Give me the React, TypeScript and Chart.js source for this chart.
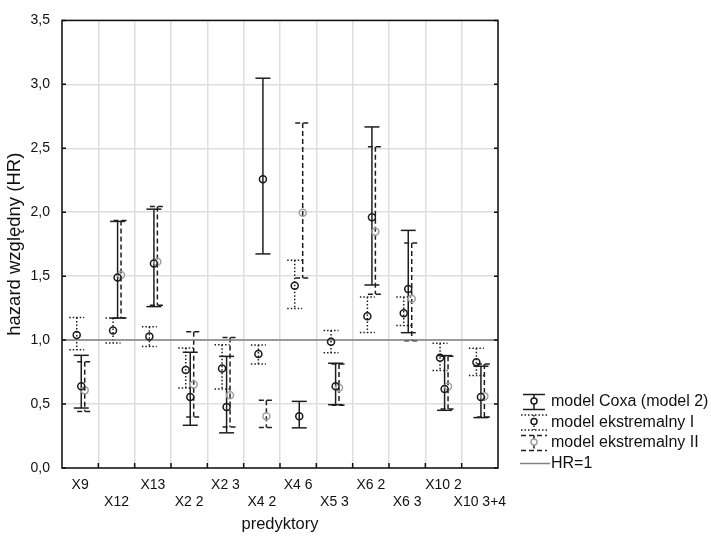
import React, { useEffect, useRef } from 'react';
import { Chart, registerables } from 'chart.js';

Chart.register(...registerables);

const FONT = "'Liberation Sans', Arial, Helvetica, sans-serif";

const categories = ['X9', 'X12', 'X13', 'X2 2', 'X2 3', 'X4 2', 'X4 6', 'X5 3', 'X6 2', 'X6 3', 'X10 2', 'X10 3+4'];
const yTickValues = [0, 0.5, 1, 1.5, 2, 2.5, 3, 3.5];

// model Coxa (model 2)
const coxHR = [0.64, 1.49, 1.6, 0.555, 0.477, 2.258, 0.404, 0.64, 1.96, 1.4, 0.617, 0.555];
const coxLow = [0.469, 1.172, 1.262, 0.334, 0.275, 1.674, 0.314, 0.495, 1.431, 1.058, 0.451, 0.394];
const coxHigh = [0.881, 1.928, 2.024, 0.905, 0.873, 3.048, 0.521, 0.819, 2.667, 1.858, 0.879, 0.796];

// model ekstremalny I
const ext1HR = [1.04, 1.076, 1.029, 0.767, 0.778, 0.892, 1.426, 0.988, 1.187, 1.211, 0.863, 0.827];
const ext1Low = [0.925, 0.977, 0.951, 0.625, 0.617, 0.814, 1.247, 0.902, 1.06, 1.115, 0.762, 0.723];
const ext1High = [1.177, 1.172, 1.104, 0.938, 0.964, 0.962, 1.625, 1.076, 1.337, 1.337, 0.975, 0.936];

// model ekstremalny II
const ext2HR = [0.607, 1.509, 1.612, 0.653, 0.568, 0.404, 1.996, 0.627, 1.848, 1.324, 0.638, 0.562];
const ext2Low = [0.441, 1.172, 1.273, 0.399, 0.321, 0.316, 1.485, 0.49, 1.358, 0.995, 0.461, 0.399];
const ext2High = [0.83, 1.936, 2.045, 1.065, 1.021, 0.529, 2.698, 0.814, 2.512, 1.76, 0.873, 0.814];

const hrReference = 1;

const SERIES = [
  { name: 'model Coxa (model 2)', hr: coxHR, lo: coxLow, hi: coxHigh, offset: 0.03, dash: [] as number[], point: '#1a1a1a' },
  { name: 'model ekstremalny I', hr: ext1HR, lo: ext1Low, hi: ext1High, offset: -0.095, dash: [1.5, 2], point: '#1a1a1a' },
  { name: 'model ekstremalny II', hr: ext2HR, lo: ext2Low, hi: ext2High, offset: 0.125, dash: [5, 3], point: '#a0a0a0' },
];

const BAR_COLOR = '#1e1e1e';
const CAP = 7.5;

const errorBarPlugin = {
  id: 'errorBars',
  beforeDatasetsDraw(chart: any) {
    const ctx = chart.ctx;
    const xs = chart.scales.xl;
    const ys = chart.scales.y;
    ctx.save();
    ctx.strokeStyle = BAR_COLOR;
    ctx.lineWidth = 1.5;
    SERIES.forEach((s) => {
      ctx.setLineDash(s.dash);
      categories.forEach((_, i) => {
        const x = xs.getPixelForValue(i + s.offset);
        const yl = ys.getPixelForValue(s.lo[i]);
        const yh = ys.getPixelForValue(s.hi[i]);
        ctx.beginPath();
        ctx.moveTo(x, yh);
        ctx.lineTo(x, yl);
        ctx.stroke();
        ctx.beginPath();
        ctx.moveTo(x - CAP, yh);
        ctx.lineTo(x + CAP, yh);
        ctx.stroke();
        ctx.beginPath();
        ctx.moveTo(x - CAP, yl);
        ctx.lineTo(x + CAP, yl);
        ctx.stroke();
      });
    });
    ctx.restore();
  },
};

const framePlugin = {
  id: 'frame',
  afterDatasetsDraw(chart: any) {
    const ctx = chart.ctx;
    const a = chart.chartArea;
    const ys = chart.scales.y;
    const xs = chart.scales.xl;
    ctx.save();
    ctx.strokeStyle = '#111';
    ctx.lineWidth = 1.5;
    ctx.setLineDash([]);
    ctx.strokeRect(a.left, a.top, a.right - a.left, a.bottom - a.top);
    ctx.beginPath();
    yTickValues.forEach((v) => {
      const y = ys.getPixelForValue(v);
      ctx.moveTo(a.left, y);
      ctx.lineTo(a.left + 4, y);
      ctx.moveTo(a.right, y);
      ctx.lineTo(a.right - 4, y);
    });
    for (let i = 1; i < categories.length; i++) {
      const x = xs.getPixelForValue(i - 0.5);
      ctx.moveTo(x, a.bottom);
      ctx.lineTo(x, a.bottom - 5);
    }
    ctx.stroke();
    ctx.restore();
  },
};

const legendPlugin = {
  id: 'customLegend',
  afterDraw(chart: any) {
    const ctx = chart.ctx;
    const cx = 534;
    const textX = 551;
    const rows = [402, 422.5, 443, 463.5];
    ctx.save();
    ctx.font = `16px ${FONT}`;
    ctx.textBaseline = 'middle';
    ctx.textAlign = 'left';
    SERIES.forEach((s, k) => {
      const y = rows[k];
      ctx.strokeStyle = BAR_COLOR;
      ctx.lineWidth = 1.5;
      ctx.setLineDash(s.dash);
      const capW = k === 0 ? 11 : 13;
      ctx.beginPath();
      ctx.moveTo(cx, y - 7.5);
      ctx.lineTo(cx, y + 7.5);
      ctx.stroke();
      ctx.beginPath();
      ctx.moveTo(cx - capW, y - 7.5);
      ctx.lineTo(cx + capW, y - 7.5);
      ctx.stroke();
      ctx.beginPath();
      ctx.moveTo(cx - capW, y + 7.5);
      ctx.lineTo(cx + capW, y + 7.5);
      ctx.stroke();
      ctx.setLineDash([]);
      ctx.beginPath();
      ctx.arc(cx, y - 1, 3, 0, Math.PI * 2);
      ctx.fillStyle = '#fff';
      ctx.fill();
      ctx.strokeStyle = s.point;
      ctx.stroke();
      ctx.fillStyle = '#111';
      ctx.fillText(s.name, textX, y);
    });
    const y = rows[3];
    ctx.strokeStyle = '#808080';
    ctx.lineWidth = 1.5;
    ctx.beginPath();
    ctx.moveTo(520, y);
    ctx.lineTo(550, y);
    ctx.stroke();
    ctx.fillStyle = '#111';
    ctx.fillText('HR=1', textX, y);
    ctx.restore();
  },
};

export default function App() {
  const ref = useRef<HTMLCanvasElement | null>(null);

  useEffect(() => {
    if (!ref.current) return;
    const datasets: any[] = SERIES.map((s) => ({
      type: 'scatter',
      label: s.name,
      xAxisID: 'xl',
      yAxisID: 'y',
      data: categories.map((_, i) => ({ x: i + s.offset, y: s.hr[i] })),
      pointRadius: 3.5,
      pointBorderWidth: 1.5,
      pointBorderColor: s.point,
      pointBackgroundColor: 'rgba(255,255,255,0)',
      showLine: false,
      order: 1,
    }));
    datasets.push({
      type: 'line',
      label: 'HR=1',
      xAxisID: 'xl',
      yAxisID: 'y',
      data: [
        { x: -0.5, y: hrReference },
        { x: categories.length - 0.5, y: hrReference },
      ],
      borderColor: '#808080',
      borderWidth: 1.5,
      pointRadius: 0,
      fill: false,
      order: 2,
    });

    const chart = new Chart(ref.current, {
      type: 'scatter',
      data: { labels: categories, datasets },
      options: {
        animation: false,
        responsive: false,
        devicePixelRatio: 1,
        layout: { padding: { left: 0, top: 18, right: 213, bottom: 0 } },
        plugins: { legend: { display: false }, tooltip: { enabled: false } },
        scales: {
          x: {
            type: 'category',
            labels: categories,
            offset: true,
            position: 'bottom',
            grid: { offset: true, color: '#dedede', lineWidth: 1.5, drawTicks: false },
            border: { display: false },
            ticks: {
              autoSkip: false,
              maxRotation: 0,
              minRotation: 0,
              padding: 8.5,
              color: '#111',
              font: { family: FONT, size: 14, lineHeight: 17 / 14 },
              callback: (_v: any, idx: number) => (idx % 2 === 0 ? categories[idx] : ['', categories[idx]]),
            },
            title: {
              display: true,
              text: 'predyktory',
              color: '#111',
              font: { family: FONT, size: 16.5 },
              padding: { top: 0, bottom: 2 },
            },
            afterFit: (s: any) => {
              s.height = 68;
            },
          },
          xl: {
            type: 'linear',
            display: false,
            min: -0.5,
            max: categories.length - 0.5,
          },
          y: {
            type: 'linear',
            min: 0,
            max: 3.5,
            position: 'left',
            grid: { color: '#dedede', lineWidth: 1.5, drawTicks: false },
            border: { display: false },
            afterBuildTicks: (s: any) => {
              s.ticks = yTickValues.map((v) => ({ value: v }));
            },
            ticks: {
              padding: 12,
              color: '#111',
              font: { family: FONT, size: 14 },
              callback: (v: any) => Number(v).toFixed(1).replace('.', ','),
            },
            title: {
              display: true,
              text: 'hazard względny (HR)',
              color: '#111',
              font: { family: FONT, size: 18.5 },
              padding: { top: 4, bottom: 0 },
            },
            afterFit: (s: any) => {
              s.width = 62;
            },
          },
        },
      } as any,
      plugins: [errorBarPlugin, framePlugin, legendPlugin],
    });
    return () => chart.destroy();
  }, []);

  return (
    <div style={{ position: 'absolute', left: 0, top: 0, width: 711, height: 536, background: '#fff' }}>
      <canvas ref={ref} width={711} height={536} style={{ display: 'block' }} />
    </div>
  );
}
